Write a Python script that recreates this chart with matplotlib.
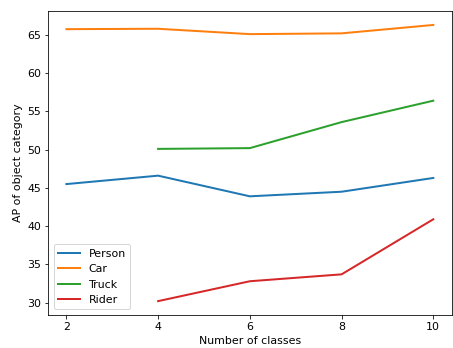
import matplotlib.pyplot as plt

classes = [2, 4, 6, 8, 10]
classes_sub = [4, 6, 8, 10]
person = [45.5, 46.6, 43.9, 44.5, 46.3]
car = [65.75, 65.8, 65.1, 65.2, 66.3]
truck = [50.1, 50.2, 53.6, 56.4]
rider = [30.2, 32.8, 33.7, 40.9]

fig = plt.figure(figsize=(453 / 72, 348 / 72), dpi=72)
ax = fig.add_subplot(111)
ax.plot(classes, person, label='Person', lw=2)
ax.plot(classes, car, label='Car', lw=2)
ax.plot(classes_sub, truck, label='Truck', lw=2)
ax.plot(classes_sub, rider, label='Rider', lw=2)
ax.set_xticks(classes)
ax.set_xlabel('Number of classes', fontsize=11)
ax.set_ylabel('AP of object category', fontsize=11)
ax.tick_params(labelsize=11)
ax.legend(loc='lower left', fontsize=11)
fig.subplots_adjust(left=0.106, right=0.997, top=0.968, bottom=0.095)
fig.savefig('out.png', dpi=72)
